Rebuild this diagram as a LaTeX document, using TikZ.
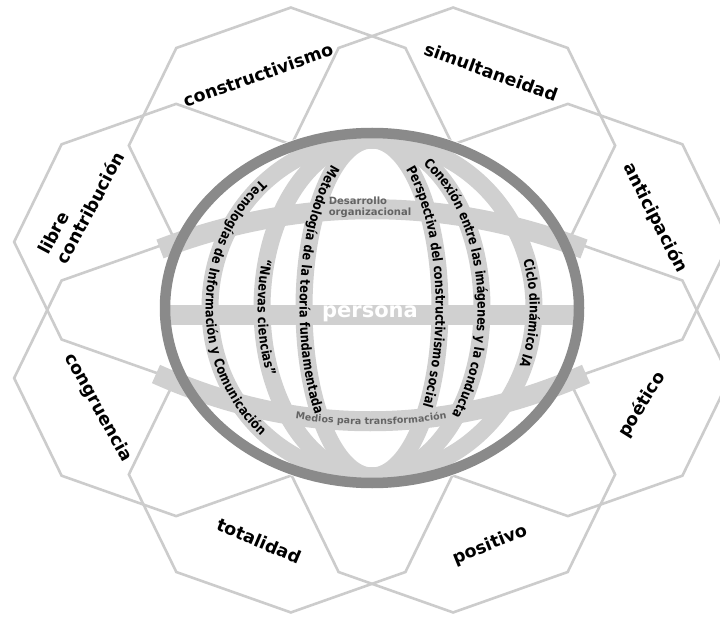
\documentclass[tikz,border=0pt]{standalone}
\usepackage{fontspec}
\setmainfont{DejaVu Sans}
\newfontfamily\meridfont{DejaVu Sans}[FakeStretch=0.84]
\usepackage{xcolor}
\definecolor{octgris}{RGB}{204,204,204}
\definecolor{bandgris}{RGB}{208,208,208}
\definecolor{anillo}{RGB}{138,138,138}
\definecolor{textgris}{RGB}{100,100,100}
\usetikzlibrary{calc, decorations.text}

\newcommand\mtxt{\meridfont\fontsize{13.5}{15}\selectfont\bfseries}
\newcommand\ptxt{\fontsize{9.5}{11}\selectfont\bfseries\color{textgris}}

\begin{document}
\begin{tikzpicture}[
    x=1pt, y=1pt,
    octa/.style={draw=octgris, line width=2.6pt, line join=miter},
    lbl/.style={font=\fontsize{17.5}{21}\selectfont\bfseries, inner sep=0pt},
    band/.style={draw=bandgris, line width=17pt},
    paral/.style={draw=bandgris, line width=20pt},
    ring/.style={draw=anillo, line width=10.5pt},
    merid/.style={decorate, decoration={text along path, text align=center, raise=-4.3pt}}
  ]

  \useasboundingbox (0,0) rectangle (720,-620);
  \fill[white] (0,0) rectangle (720,-620);
  \clip (0,0) rectangle (720,-620);

  % Octagon ring
  \coordinate (ring) at (372,-310);
  \coordinate (glob) at (372,-308);
  \foreach \k in {0,...,7} {
    \coordinate (oct\k) at ($(ring)+(22.5+45*\k:212 and 178)$);
    \draw[octa] (oct\k) +(90:162 and 138) -- +(135:162 and 138) -- +(180:162 and 138)
      -- +(225:162 and 138) -- +(270:162 and 138) -- +(315:162 and 138)
      -- +(0:162 and 138) -- +(45:162 and 138) -- cycle;
  }

  % Globe
  \fill[white] (glob) ellipse[x radius=213, y radius=181];
  \foreach \rx in {68,110,162}
    \draw[band] (glob) ellipse[x radius=\rx, y radius=168];
  \draw[paral] (160,-249) .. controls (298,-196) and (446,-196) .. (584,-249);
  \draw[paral] (156,-374) .. controls (297,-437) and (443,-437) .. (586,-374);
  \draw[paral] (165,-315) -- (579,-315);
  \draw[ring] (glob) ellipse[x radius=207, y radius=175];

  % Meridian labels
  \path[merid, decoration={text={|\mtxt|Tecnologías de Información y Comunicación}}]
    ($(glob)+(95:162 and 168)$) arc[start angle=95, end angle=265, x radius=162, y radius=168];
  \path[merid, decoration={text={|\mtxt|“Nuevas ciencias”}}]
    ($(glob)+(134:110 and 168)$) arc[start angle=134, end angle=234, x radius=110, y radius=168];
  \path[merid, decoration={text={|\mtxt|Metodología de la teoría fundamentada}}]
    ($(glob)+(97:68 and 168)$) arc[start angle=97, end angle=237, x radius=68, y radius=168];
  \path[merid, decoration={text={|\mtxt|Perspectiva del constructivismo social}}]
    ($(glob)+(84:68 and 168)$) arc[start angle=84, end angle=-55, x radius=68, y radius=168];
  \path[merid, decoration={text={|\mtxt|Conexión entre las imágenes y la conducta}}]
    ($(glob)+(81:110 and 168)$) arc[start angle=81, end angle=-58, x radius=110, y radius=168];
  \path[merid, decoration={text={|\mtxt|Ciclo dinámico IA}}]
    ($(glob)+(60:162 and 168)$) arc[start angle=60, end angle=-64, x radius=162, y radius=168];

  % Parallel labels
  \node[align=left, inner sep=0pt, text=textgris, font=\fontsize{10}{11}\selectfont\bfseries]
    (desa) at (370,-207) {Desarrollo\\organizacional};
  \path[merid, decoration={text={|\ptxt|Medios para transformación}, raise=-3.3pt}]
    (156,-374) .. controls (297,-437) and (443,-437) .. (586,-374);
  \node[text=white, inner sep=0pt, font=\fontsize{21}{21}\selectfont\bfseries]
    (pers) at (370,-314) {persona};

  % Octagon labels
  \node[lbl, rotate=19.5] (cons) at (258,-75) {constructivismo};
  \node[lbl, rotate=-20]  (simu) at (491,-72) {simultaneidad};
  \node[lbl, rotate=-63]  (anti) at (655,-218) {anticipación};
  \node[lbl, rotate=58]   (poet) at (642,-405) {poético};
  \node[lbl, rotate=22]   (posi) at (490,-545) {positivo};
  \node[lbl, rotate=-23]  (tota) at (259,-541) {totalidad};
  \node[lbl, rotate=-61]  (cong) at (98,-408) {congruencia};
  \node[lbl, rotate=62, align=left] (libr) at (81,-203) {libre\\contribución};

\end{tikzpicture}
\end{document}
